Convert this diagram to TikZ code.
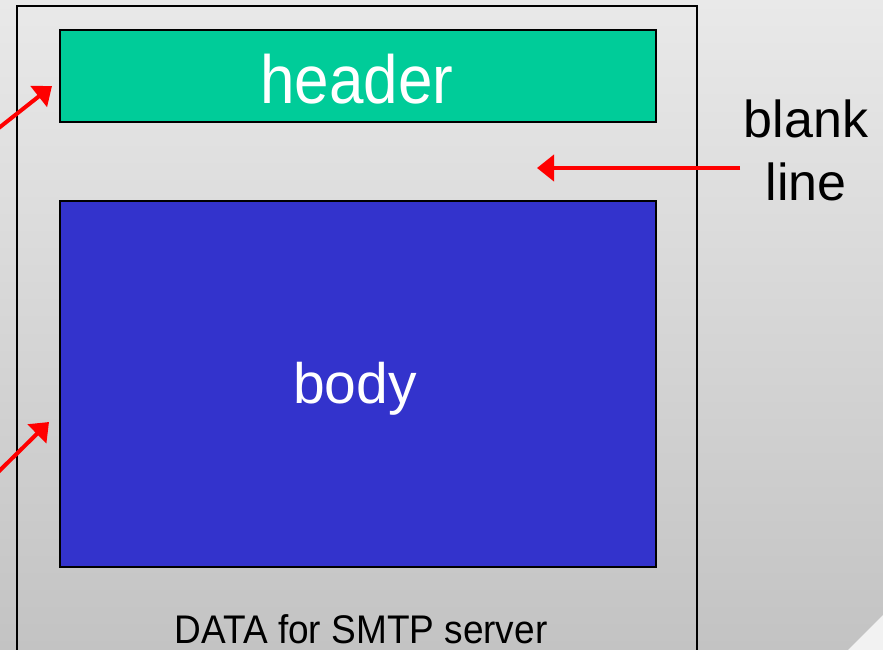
\documentclass[tikz,border=0pt]{standalone}
\usepackage{fontspec}
\setmainfont{Liberation Sans}
\usetikzlibrary{arrows.meta}
\definecolor{bgtop}{RGB}{233,233,233}
\definecolor{bgbot}{RGB}{195,195,195}
\definecolor{hdrgreen}{RGB}{0,204,153}
\definecolor{bodyblue}{RGB}{51,51,204}
\definecolor{cornerwhite}{RGB}{242,242,242}
\tikzset{
  boxpart/.style={draw=black, line width=1.6pt, anchor=north west, inner sep=0pt},
  bigtext/.style={text=white, anchor=base, inner sep=0pt},
  redarrow/.style={draw=red, line width=4pt, -{Triangle[length=17pt,width=26pt]}},
}
\begin{document}
\begin{tikzpicture}[x=1pt,y=-1pt]
\useasboundingbox (0,0) rectangle (883,649);
\clip (0,0) rectangle (883,649);
\shade[top color=bgtop, bottom color=bgbot] (0,0) rectangle (883,649);
\fill[cornerwhite] (848,650) -- (884,614) -- (884,650) -- cycle;
% outer frame
\draw[line width=2pt] (17,660) -- (17,6) -- (697,6) -- (697,660);
% header and body boxes
\node[boxpart, fill=hdrgreen, minimum width=596pt, minimum height=92pt] (hdrbox) at (59,29) {};
\node[boxpart, fill=bodyblue, minimum width=596pt, minimum height=366pt] (bodybox) at (59,200) {};
\node[bigtext, font=\fontsize{62}{70}\selectfont] (hdrtext) at (357,103) {\scalebox{1}[1.1]{header}};
\node[bigtext, font=\fontsize{57}{64}\selectfont] (bodytext) at (355,403) {body};
\node[anchor=base, inner sep=0pt, font=\fontsize{37}{44}\selectfont] (datatext) at (361,643) {\scalebox{1}[1.08]{DATA for SMTP server}};
\node[anchor=base, inner sep=0pt, font=\fontsize{52}{60}\selectfont] (blank) at (806,137) {blank};
\node[anchor=base, inner sep=0pt, font=\fontsize{52}{60}\selectfont] (line) at (806,200) {line};
% arrows
\coordinate (a1s) at (-12,136.5);
\coordinate (a1e) at (52,86);
\coordinate (a2s) at (-12,482);
\coordinate (a2e) at (49,422);
\coordinate (a3s) at (740,168);
\coordinate (a3e) at (537,168);
\draw[redarrow] (a1s) -- (a1e);
\draw[redarrow] (a2s) -- (a2e);
\draw[redarrow] (a3s) -- (a3e);
\end{tikzpicture}
\end{document}
